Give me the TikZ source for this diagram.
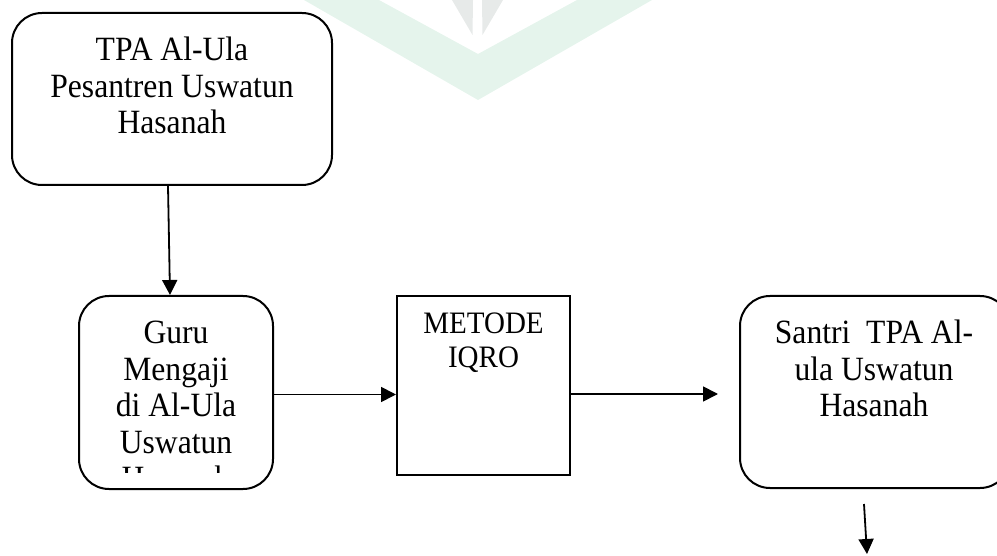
\documentclass[tikz,border=0pt]{standalone}
\usepackage{fontspec}
\setmainfont[FakeStretch=0.93]{Liberation Serif}
\usetikzlibrary{arrows.meta}
\definecolor{markgreen}{HTML}{E5F4EC}
\definecolor{markgrey}{HTML}{E7EAE9}
\tikzstyle{roundbox} = [rectangle, 
rounded corners=30pt, 
draw=black, 
line width=2pt, 
fill=white, 
inner sep=0pt]
\tikzstyle{squarebox} = [rectangle, 
draw=black, 
line width=2pt, 
fill=white, 
inner sep=0pt]
\tikzstyle{boxtext} = [align=center, 
anchor=north, 
inner sep=0pt, 
font=\fontsize{34}{36.5}\selectfont]
\tikzstyle{arrow} = [line width=1.8pt,-{Triangle[length=15pt,width=15pt]}]

\begin{document}
\begin{tikzpicture}[x=1pt, y=-1pt]
	\useasboundingbox (0,0) rectangle (997,556);
	% watermark
	\fill [markgreen] (304,0) -- (478,100) -- (652,0) -- (577,0) -- (478,54) -- (379,0) -- cycle;
	\fill [markgrey] (452,0) -- (473,0) -- (472.5,35) -- cycle;
	\fill [markgrey] (482,0) -- (503,0) -- (482.5,35) -- cycle;

	\node (ulabox) [roundbox, minimum width=320pt, minimum height=172pt] at (172,99) {};
	\node (gurubox) [roundbox, minimum width=194pt, minimum height=193pt] at (176,392.5) {};
	\node (metodebox) [squarebox, minimum width=173pt, minimum height=179pt] at (483.5,385.5) {};
	\node (santribox) [roundbox, minimum width=270pt, minimum height=192pt] at (875,392) {};

	\node (ulatext) [boxtext] at (172,36.8) {TPA Al-Ula\\Pesantren Uswatun\\Hasanah};
	\begin{scope}
		\clip (79,296) rectangle (273,472);
		\node (gurutext) [boxtext] at (176,321) {Guru\\Mengaji\\di Al-Ula\\Uswatun\\Hasanah};
	\end{scope}
	\node (metodetext) [boxtext, font=\fontsize{31.2}{34}\selectfont] at (483.5,313) {METODE\\IQRO};
	\node (santritext) [boxtext] at (874,319.8) {Santri~ TPA Al-\\ula Uswatun\\Hasanah};

	\coordinate (nextstep) at (867,554);
	\draw [arrow] ([xshift=-4pt]ulabox.south) -- ([xshift=-6pt]gurubox.north);
	\draw [arrow] ([yshift=-2pt]gurubox.east) -- ([yshift=-2pt]gurubox.east -| metodebox.west);
	\draw [arrow] ([yshift=-2pt]metodebox.east |- santribox.west) -- ([xshift=-21pt, yshift=-2pt]santribox.west);
	\draw [arrow] ([shift={(-11pt,-15pt)}]santribox.south) -- (nextstep);
\end{tikzpicture}
\end{document}
